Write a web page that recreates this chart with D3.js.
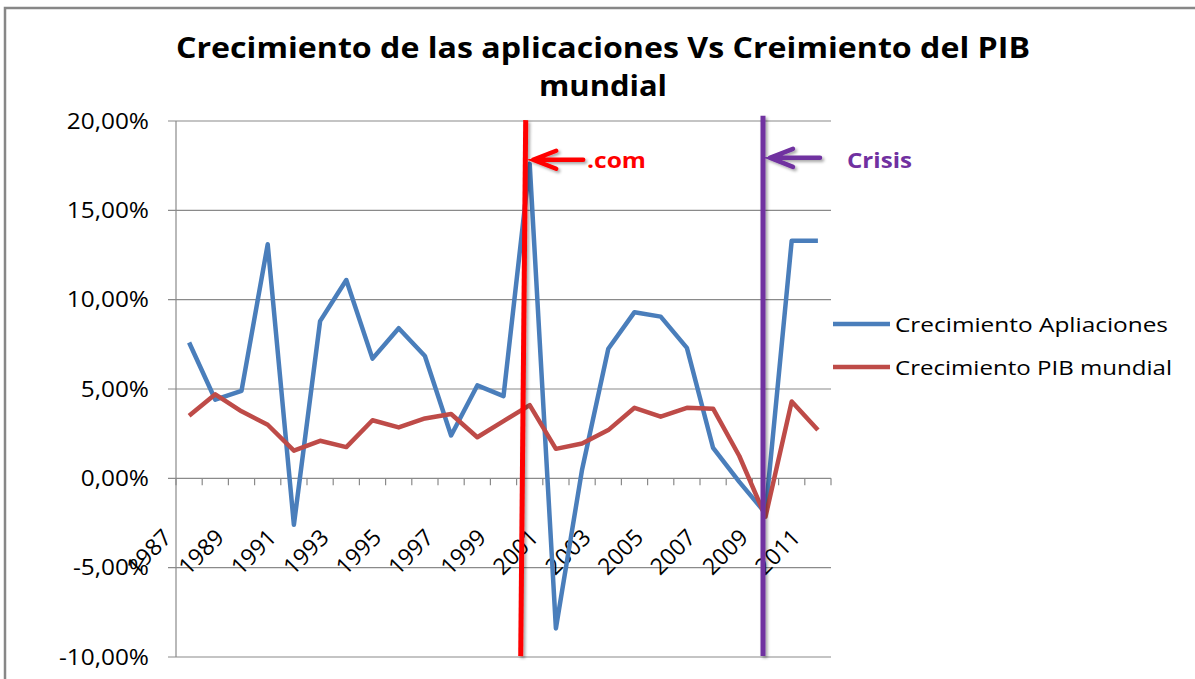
<!DOCTYPE html>
<html><head><meta charset="utf-8">
<script src="https://cdn.jsdelivr.net/npm/d3@7"></script>
<style>html,body{margin:0;padding:0;background:#fff;}svg{display:block;}</style>
</head><body>
<svg id="chart" width="1195" height="679"></svg>
<script>
// ---- data ----
const years = [1987,1988,1989,1990,1991,1992,1993,1994,1995,1996,1997,1998,1999,2000,2001,2002,2003,2004,2005,2006,2007,2008,2009,2010,2011];
const aplicaciones = [7.6,4.4,4.9,13.1,-2.6,8.8,11.1,6.7,8.4,6.85,2.4,5.2,4.6,17.6,-8.4,0.5,7.25,9.3,9.05,7.3,1.7,-0.2,-1.95,13.3,13.3];
const pibMundial = [3.5,4.7,3.75,3.0,1.55,2.1,1.75,3.25,2.85,3.35,3.6,2.3,3.2,4.1,1.65,1.95,2.7,3.95,3.45,3.95,3.9,1.25,-2.15,4.3,2.7];
const yTicks = [-10,-5,0,5,10,15,20];
const xTickLabels = [1987,1989,1991,1993,1995,1997,1999,2001,2003,2005,2007,2009,2011];
const seriesNames = ["Crecimiento Apliaciones","Crecimiento PIB mundial"];
const eventYears = [2000,2009];
const eventLabels = [".com","Crisis"];
const titleLines = ["Crecimiento de las aplicaciones Vs Creimiento del PIB","mundial"];

const blue = "#4A7EBB", red = "#BE4B48";
const eventColors = ["#FF0000","#7030A0"];
const FONT = "'Open Sans', 'DejaVu Sans', sans-serif";

const svg = d3.select("#chart");
const defs = svg.append("defs");
const f = defs.append("filter").attr("id","sh").attr("x","-50%").attr("y","-50%").attr("width","200%").attr("height","200%");
f.append("feDropShadow").attr("dx",2).attr("dy",2).attr("stdDeviation",1.5).attr("flood-color","#000").attr("flood-opacity",0.35);

// frame
svg.append("path").attr("d","M5,679 V8 H1195").attr("fill","none").attr("stroke","#878787").attr("stroke-width",2.5);

const x = d3.scaleBand().domain(years).range([176,831]).padding(0);
const cx = d => x(d) + x.bandwidth()/2;
const y = d3.scaleLinear().domain([-10,20]).range([657,121]);

// gridlines
svg.append("g").selectAll("line").data(yTicks).join("line")
  .attr("x1",168).attr("x2",831).attr("y1",d=>y(d)).attr("y2",d=>y(d))
  .attr("stroke","#8a8a8a").attr("stroke-width",1.2);
// y axis line
svg.append("line").attr("x1",176).attr("x2",176).attr("y1",y(20)).attr("y2",y(-10)).attr("stroke","#8a8a8a").attr("stroke-width",1.2);
// y labels
const fmt = v => d3.format(".2f")(Math.abs(v)).replace(".",",").replace(/^/, v<0?"-":"") + "%";
svg.append("g").selectAll("text").data(yTicks).join("text")
  .attr("x",149).attr("y",d=>y(d)).attr("dy","0.36em").attr("text-anchor","end")
  .attr("font-family",FONT).attr("font-size",21).attr("fill","#000")
  .text(fmt)
  .each(function(){ const w=this.getComputedTextLength(); d3.select(this).attr("textLength",w*1.16).attr("lengthAdjust","spacingAndGlyphs"); });

// x axis at 0 with ticks between categories
const bounds = years.map(d=>x(d)).concat([x(years[years.length-1])+x.bandwidth()]);
svg.append("g").selectAll("line").data(bounds).join("line")
  .attr("x1",d=>d).attr("x2",d=>d).attr("y1",y(0)).attr("y2",y(0)+7)
  .attr("stroke","#8a8a8a").attr("stroke-width",1.2);
svg.append("g").selectAll("text").data(xTickLabels).join("text")
  .attr("text-anchor","end")
  .attr("transform",d=>`translate(${cx(d)-16},539) rotate(-45)`)
  .attr("font-family",FONT).attr("font-size",23).attr("fill","#000")
  .text(d=>d);

// series
const line = d3.line().x((d,i)=>cx(years[i])).y(d=>y(d));
svg.append("path").datum(aplicaciones).attr("d",line).attr("fill","none").attr("stroke",blue).attr("stroke-width",4.5).attr("stroke-linejoin","round");
svg.append("path").datum(pibMundial).attr("d",line).attr("fill","none").attr("stroke",red).attr("stroke-width",4.5).attr("stroke-linejoin","round");

// event lines & arrows
const lineOff = [[-4,-9],[-2.5,-2.5]];
const lineTop = [20.05,20.3];
const arrowVal = [17.83,17.94];
const ev = svg.append("g").attr("filter","url(#sh)");
eventYears.forEach((yr,i)=>{
  const c = cx(yr);
  ev.append("line").attr("x1",c+lineOff[i][0]).attr("x2",c+lineOff[i][1]).attr("y1",y(lineTop[i])).attr("y2",y(-9.95))
    .attr("stroke",eventColors[i]).attr("stroke-width",5);
  const ay = y(arrowVal[i]);
  const tip = c + (i===0?3.5:4.5);
  ev.append("path").attr("d",`M${tip+50},${ay} H${tip} M${tip+23},${ay-9} L${tip},${ay} L${tip+23},${ay+9}`)
    .attr("fill","none").attr("stroke",eventColors[i]).attr("stroke-width",4.5).attr("stroke-linejoin","miter").attr("stroke-linecap","round");
});
// event labels
const lblX = [587,847], lblW = [59,65];
eventLabels.forEach((t,i)=>{
  svg.append("text").attr("x",cx(eventYears[i]) + (lblX[i]-cx(eventYears[i]))).attr("y",168)
    .attr("font-family",FONT).attr("font-weight","bold").attr("font-size",21).attr("fill",eventColors[i])
    .attr("textLength",lblW[i]).attr("lengthAdjust","spacingAndGlyphs").text(t);
});

// legend
const lg = svg.append("g");
const legY = [324,367], legW=[273,277];
seriesNames.forEach((n,i)=>{
  lg.append("line").attr("x1",833).attr("x2",890).attr("y1",legY[i]).attr("y2",legY[i]).attr("stroke",[blue,red][i]).attr("stroke-width",4.5);
  lg.append("text").attr("x",895).attr("y",legY[i]+7.5).attr("font-family",FONT).attr("font-size",20).attr("fill","#000")
    .attr("textLength",legW[i]).attr("lengthAdjust","spacingAndGlyphs").text(n);
});

// title
const tW=[854,128], tY=[58,96];
titleLines.forEach((t,i)=>{
  svg.append("text").attr("x",603).attr("y",tY[i]).attr("text-anchor","middle")
    .attr("font-family",FONT).attr("font-weight","bold").attr("font-size",28).attr("fill","#000")
    .attr("textLength",tW[i]).attr("lengthAdjust","spacingAndGlyphs").text(t);
});
</script>
</body></html>
